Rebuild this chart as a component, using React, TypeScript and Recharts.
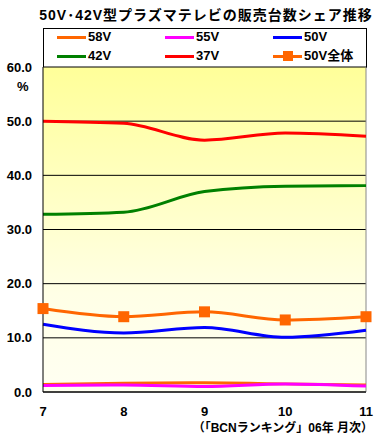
import { CartesianGrid, Line, LineChart, ReferenceLine, XAxis, YAxis } from "recharts";

const MONTHS = ["7", "8", "9", "10", "11"];
const V58 = [1.4, 1.6, 1.7, 1.5, 1.3];
const V55 = [1.2, 1.3, 1.0, 1.5, 1.1];
const V50 = [12.5, 10.9, 11.9, 10.1, 11.4];
const V42 = [32.8, 33.2, 37.0, 38.0, 38.1];
const V37 = [50.0, 49.6, 46.5, 47.8, 47.2];
const V50ALL = [15.4, 13.9, 14.8, 13.3, 13.9];
const Y_TICKS = [0, 10, 20, 30, 40, 50, 60];

const SERIES = [
  { key: "v58", name: "58V", color: "#FF6600", values: V58, marker: false },
  { key: "v55", name: "55V", color: "#FF00FF", values: V55, marker: false },
  { key: "v50", name: "50V", color: "#0000FF", values: V50, marker: false },
  { key: "v42", name: "42V", color: "#008000", values: V42, marker: false },
  { key: "v37", name: "37V", color: "#FF0000", values: V37, marker: false },
  { key: "v50all", name: "50V全体", color: "#FF6600", values: V50ALL, marker: true },
];

const data = MONTHS.map((m, i) => {
  const row: Record<string, string | number> = { month: m };
  SERIES.forEach((s) => (row[s.key] = s.values[i]));
  return row;
});

const FONT = "'Liberation Sans', 'Noto Sans CJK JP', sans-serif";

function SquareDot(props: any) {
  const { cx, cy, index } = props;
  if (cx == null || cy == null) return null;
  return <rect key={index} x={cx - 5.5} y={cy - 5.5} width={11} height={11} fill="#FF6600" />;
}

function LegendItem({ name, color, marker, x, y }: any) {
  return (
    <div style={{ position: "absolute", left: x, top: y, height: 14, display: "flex", alignItems: "center" }}>
      <div style={{ position: "relative", width: 29, height: 3, background: color }}>
        {marker && (
          <div style={{ position: "absolute", left: 10, top: -4, width: 10, height: 10, background: color }} />
        )}
      </div>
      <span style={{ marginLeft: 2, fontSize: 13, fontWeight: "bold", lineHeight: "14px" }}>{name}</span>
    </div>
  );
}

const LEGEND_X = [57, 165, 273];
const LEGEND_Y = [30, 49];

export default function App() {
  return (
    <div
      style={{
        position: "absolute",
        left: 0,
        top: 0,
        width: 379,
        height: 437,
        background: "#fff",
        fontFamily: FONT,
        color: "#000",
      }}
    >
      <div
        style={{
          position: "absolute",
          left: 38,
          top: 4,
          width: 336,
          textAlign: "center",
          fontSize: 14,
          fontWeight: "bold",
          letterSpacing: 1,
          whiteSpace: "nowrap",
        }}
      >
        50V･42V型プラズマテレビの販売台数シェア推移
      </div>
      <div
        style={{
          position: "absolute",
          left: 43,
          top: 28,
          width: 322,
          height: 39,
          border: "1px solid #000",
          borderBottom: "none",
          background: "#fff",
        }}
      />
      {SERIES.map((s, i) => (
        <LegendItem
          key={s.key}
          name={s.name}
          color={s.color}
          marker={s.marker}
          x={LEGEND_X[i % 3]}
          y={LEGEND_Y[Math.floor(i / 3)]}
        />
      ))}
      <div style={{ position: "absolute", left: 17, top: 79, fontSize: 13, fontWeight: "bold" }}>%</div>
      <LineChart
        width={379}
        height={437}
        data={data}
        margin={{ top: 67, right: 13, bottom: 15, left: 0 }}
        style={{ position: "absolute", left: 0, top: 0 }}
      >
        <defs>
          <linearGradient id="bg" x1="0" y1="0" x2="0" y2="1">
            <stop offset="0%" stopColor="#FFFF99" />
            <stop offset="70%" stopColor="#FFFFE6" />
            <stop offset="100%" stopColor="#FFFFF2" />
          </linearGradient>
        </defs>
        <CartesianGrid vertical={false} stroke="#000" strokeWidth={1} fill="url(#bg)" fillOpacity={1} />
        <XAxis
          dataKey="month"
          padding={{ left: 0, right: 0 }}
          height={30}
          axisLine={{ stroke: "#000" }}
          tickLine={false}
          tickMargin={9}
          tick={{ fontSize: 13, fontWeight: "bold", fill: "#000", fontFamily: FONT }}
          interval={0}
        />
        <YAxis
          domain={[0, 60]}
          ticks={Y_TICKS}
          width={43}
          axisLine={{ stroke: "#000" }}
          tickLine={false}
          tickSize={0}
          tickMargin={11}
          tickFormatter={(v: number) => v.toFixed(1)}
          tick={{ fontSize: 13, fontWeight: "bold", fill: "#000", fontFamily: FONT }}
        />
        <ReferenceLine x="11" stroke="#888" strokeWidth={1} />
        {SERIES.map((s) => (
          <Line
            key={s.key}
            dataKey={s.key}
            name={s.name}
            type="monotone"
            stroke={s.color}
            strokeWidth={3}
            dot={s.marker ? <SquareDot /> : false}
            activeDot={false}
            isAnimationActive={false}
          />
        ))}
      </LineChart>
      <div
        style={{
          position: "absolute",
          right: 6,
          top: 418,
          fontSize: 12,
          fontWeight: "bold",
          whiteSpace: "nowrap",
        }}
      >
        （「BCNランキング」06年 月次）
      </div>
    </div>
  );
}
